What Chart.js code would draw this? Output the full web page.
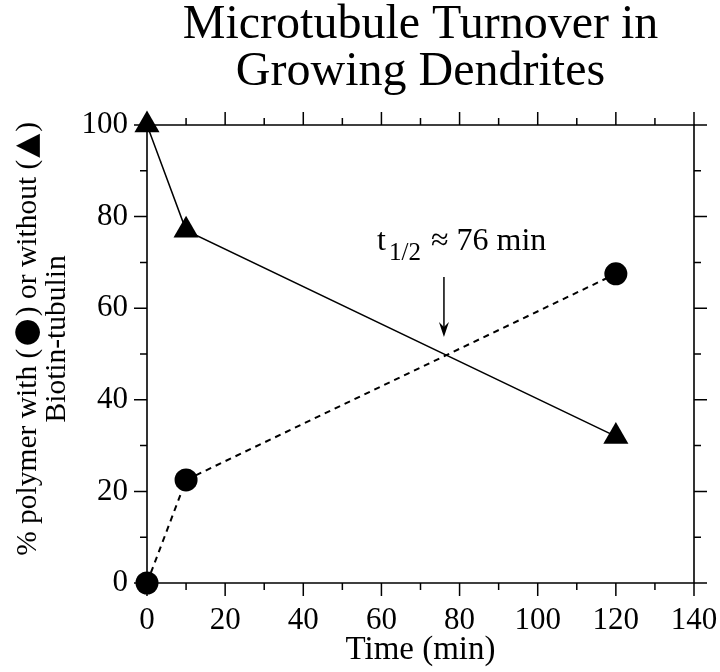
<!DOCTYPE html>
<html>
<head>
<meta charset="utf-8">
<script src="https://cdn.jsdelivr.net/npm/chart.js@4/dist/chart.umd.min.js"></script>
<style>
html,body{margin:0;padding:0;background:#fff;}
#wrap{width:720px;height:672px;}
</style>
</head>
<body>
<div id="wrap"><canvas id="c" width="720" height="672"></canvas></div>
<script>
// ---- data ----
const timeMin = [0, 10, 120];
const withBiotin = [0, 22.5, 67.5];      // circles, dashed line
const withoutBiotin = [100, 77, 32];     // triangles, solid line
const xTickLabels = [0, 20, 40, 60, 80, 100, 120, 140];
const yTickLabels = [0, 20, 40, 60, 80, 100];
const halfTime = 76;
const titleLines = ['Microtubule Turnover in', 'Growing Dendrites'];
const yTitleLine1 = ['% polymer with (', '\u25CF', ') or without (', '\u25B2', ')'];
const yTitleLine2 = 'Biotin-tubulin';
const xTitle = 'Time (min)';
const annotText = ['t', '1/2', '\u2248 76 min'];

const SERIF = "'Liberation Serif', 'Times New Roman', serif";
const SYM = "'DejaVu Sans', sans-serif";

function symFont(ctx, ch, ink) {
  ctx.font = '100px ' + SYM;
  const m = ctx.measureText(ch);
  const w = (m.actualBoundingBoxLeft + m.actualBoundingBoxRight) || m.width;
  return (100 * ink / w);
}

const decorPlugin = {
  id: 'decor',
  afterDraw(chart) {
    const {ctx, chartArea: a, scales: {x, y}} = chart;
    ctx.save();
    ctx.strokeStyle = '#000';
    ctx.fillStyle = '#000';

    // frame
    ctx.lineWidth = 1.6;
    ctx.beginPath();
    ctx.rect(a.left, a.top, a.right - a.left, a.bottom - a.top);
    ctx.stroke();

    // ticks on all four sides, pointing outward
    const major = 13, minor = 7;
    ctx.lineWidth = 1.5;
    ctx.beginPath();
    for (let v = x.min; v <= x.max + 1e-9; v += 10) {
      const px = x.getPixelForValue(v);
      const len = (Math.round(v) % 20 === 0) ? major : minor;
      ctx.moveTo(px, a.bottom); ctx.lineTo(px, a.bottom + len);
      ctx.moveTo(px, a.top); ctx.lineTo(px, a.top - len);
    }
    for (let v = y.min; v <= y.max + 1e-9; v += 10) {
      const py = y.getPixelForValue(v);
      const len = (Math.round(v) % 20 === 0) ? major : minor;
      ctx.moveTo(a.left, py); ctx.lineTo(a.left - len, py);
      ctx.moveTo(a.right, py); ctx.lineTo(a.right + len, py);
    }
    ctx.stroke();

    // main title, centred over the plot area
    const cxTitle = (a.left + a.right) / 2;
    ctx.textAlign = 'center';
    ctx.textBaseline = 'alphabetic';
    ctx.font = '48px ' + SERIF;
    ctx.fillText(titleLines[0], cxTitle, 38);
    ctx.fillText(titleLines[1], cxTitle, 85);

    // y-axis title (two rotated lines)
    const cy = y.getPixelForValue(53.3);
    const serifY = '29.5px ' + SERIF;
    const circSize = symFont(ctx, '\u25CF', 25);
    const triSize = symFont(ctx, '\u25B2', 24);
    const gap = 2;
    const pieces = yTitleLine1.map((t) => {
      let f = serifY, g = 0;
      if (t === '\u25CF') { f = circSize.toFixed(1) + 'px ' + SYM; g = gap; }
      if (t === '\u25B2') { f = triSize.toFixed(1) + 'px ' + SYM; g = gap; }
      ctx.font = f;
      return {t, f, g, w: ctx.measureText(t).width};
    });
    const total = pieces.reduce((s, p) => s + p.w + 2 * p.g, 0);
    ctx.save();
    ctx.translate(28, cy);
    ctx.rotate(-Math.PI / 2);
    ctx.textAlign = 'left';
    ctx.textBaseline = 'middle';
    let tx = -total / 2;
    pieces.forEach((p) => {
      ctx.font = p.f;
      tx += p.g;
      ctx.fillText(p.t, tx, 0);
      tx += p.w + p.g;
    });
    ctx.restore();
    ctx.save();
    ctx.translate(57, cy);
    ctx.rotate(-Math.PI / 2);
    ctx.textAlign = 'center';
    ctx.textBaseline = 'middle';
    ctx.font = serifY;
    ctx.fillText(yTitleLine2, 0, 0);
    ctx.restore();

    // half-time annotation arrow
    const ax = x.getPixelForValue(halfTime);
    const yTop = y.getPixelForValue(66.8);
    const yTip = y.getPixelForValue(53.7);
    ctx.lineWidth = 1.5;
    ctx.beginPath();
    ctx.moveTo(ax, yTop); ctx.lineTo(ax, yTip - 4);
    ctx.stroke();
    ctx.beginPath();
    ctx.moveTo(ax, yTip);
    ctx.lineTo(ax - 5, yTip - 15);
    ctx.lineTo(ax, yTip - 10);
    ctx.lineTo(ax + 5, yTip - 15);
    ctx.closePath();
    ctx.fill();

    // annotation text
    const baseY = y.getPixelForValue(72.8);
    ctx.textAlign = 'left';
    ctx.textBaseline = 'alphabetic';
    ctx.font = '32px ' + SERIF;
    ctx.fillText(annotText[0], ax - 67, baseY);
    ctx.font = '25px ' + SERIF;
    ctx.fillText(annotText[1], ax - 55, baseY + 10);
    ctx.font = '32px ' + SERIF;
    ctx.fillText(annotText[2], ax - 13, baseY);
    ctx.restore();
  }
};

new Chart(document.getElementById('c'), {
  type: 'scatter',
  data: {
    datasets: [
      {
        label: 'without',
        data: timeMin.map((t, i) => ({x: t, y: withoutBiotin[i]})),
        showLine: true,
        borderColor: '#000',
        backgroundColor: '#000',
        borderWidth: 1.5,
        pointStyle: 'triangle',
        pointRadius: 14.5,
        pointHoverRadius: 14.5,
        pointBorderWidth: 0,
        clip: false
      },
      {
        label: 'with',
        data: timeMin.map((t, i) => ({x: t, y: withBiotin[i]})),
        showLine: true,
        borderColor: '#000',
        backgroundColor: '#000',
        borderWidth: 2,
        borderDash: [6, 5],
        pointStyle: 'circle',
        pointRadius: 11.5,
        pointHoverRadius: 11.5,
        pointBorderWidth: 0,
        clip: false
      }
    ]
  },
  options: {
    responsive: false,
    animation: false,
    events: [],
    layout: {padding: {left: 0, right: 26, top: 125, bottom: 0}},
    plugins: {
      legend: {display: false},
      tooltip: {enabled: false},
      title: {display: false}
    },
    scales: {
      x: {
        type: 'linear',
        min: 0, max: 140,
        afterFit(s) { s.height = 89; s.paddingLeft = 0; s.paddingRight = 0; },
        border: {display: false},
        grid: {display: false, drawTicks: false},
        ticks: {
          stepSize: 20,
          color: '#000',
          padding: 19,
          maxRotation: 0,
          font: {family: SERIF, size: 31},
          callback: (v) => xTickLabels.includes(v) ? String(v) : ''
        },
        title: {
          display: true,
          text: xTitle,
          color: '#000',
          font: {family: SERIF, size: 33, lineHeight: 1.0},
          padding: {top: 0, bottom: 5}
        }
      },
      y: {
        type: 'linear',
        min: 0, max: 100,
        afterFit(s) { s.width = 147; s.paddingTop = 0; s.paddingBottom = 0; },
        border: {display: false},
        grid: {display: false, drawTicks: false},
        ticks: {
          stepSize: 20,
          color: '#000',
          padding: 19,
          font: {family: SERIF, size: 31},
          callback: (v) => yTickLabels.includes(v) ? String(v) : ''
        },
        title: {display: false}
      }
    }
  },
  plugins: [decorPlugin]
});
</script>
</body>
</html>
